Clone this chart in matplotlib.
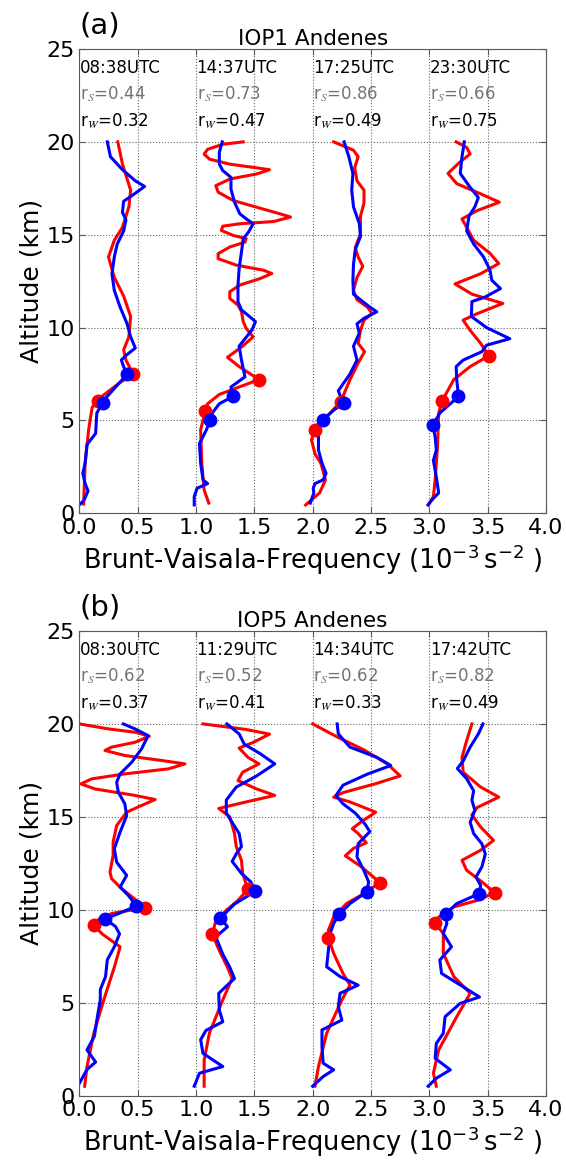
import numpy as np
import matplotlib.pyplot as plt

# ---------------- IOP1 Andenes (panel a) ----------------
# profiles are plotted with an offset of 0, 1, 2, 3 on the x axis
a1_red_z = [20.0, 18.8, 17.4, 16.5, 15.4, 14.7, 13.8, 12.7, 11.7, 10.6, 9.5, 8.8, 8.25, 7.5, 7.0, 6.3, 6.06, 5.7, 4.5, 2.7, 0.5]
a1_red_n = [0.33, 0.37, 0.44, 0.425, 0.37, 0.30, 0.25, 0.30, 0.38, 0.44, 0.425, 0.38, 0.40, 0.46, 0.34, 0.195, 0.16, 0.11, 0.08, 0.05, 0.037]
a1_blue_z = [20.0, 19.2, 18.5, 17.9, 17.6, 17.1, 16.8, 16.2, 15.8, 15.2, 14.5, 13.8, 12.9, 12.0, 11.1, 10.2, 9.5, 8.9, 8.5, 8.25,
             7.9, 7.48, 7.0, 6.3, 5.95, 5.4, 4.3, 3.7, 2.7, 2.15, 1.6, 1.2, 0.7, 0.45]
a1_blue_n = [0.24, 0.267, 0.37, 0.48, 0.56, 0.45, 0.38, 0.37, 0.40, 0.38, 0.325, 0.30, 0.28, 0.30, 0.35, 0.41, 0.44, 0.48, 0.40, 0.36,
             0.38, 0.41, 0.34, 0.24, 0.20, 0.15, 0.14, 0.066, 0.05, 0.03, 0.05, 0.075, 0.04, 0.0]

a2_red_z = [20.0, 19.87, 19.6, 19.34, 19.07, 18.8, 18.6, 18.5, 18.27, 18.0, 17.64, 17.29, 16.84, 16.48, 16.125, 15.95,
            15.71, 15.59, 15.46, 15.23, 14.96, 14.79, 14.6, 14.34, 13.98, 13.71, 13.36, 13.09, 12.91, 12.64, 12.29, 11.93,
            11.57, 11.21, 10.86, 10.32, 9.96, 9.5, 9.0, 8.4, 7.9, 7.2, 6.8, 6.4, 5.9, 5.5, 4.5, 2.7, 1.25, 0.55]
a2_red_n = [0.405, 0.23, 0.10, 0.07, 0.116, 0.29, 0.52, 0.63, 0.52, 0.29, 0.17, 0.19, 0.32, 0.52, 0.72, 0.81,
            0.665, 0.376, 0.23, 0.217, 0.32, 0.43, 0.42, 0.29, 0.19, 0.19, 0.347, 0.578, 0.65, 0.55, 0.376, 0.29,
            0.29, 0.36, 0.39, 0.405, 0.43, 0.49, 0.40, 0.27, 0.37, 0.54, 0.37, 0.20, 0.10, 0.08, 0.04, 0.05, 0.07, 0.11]
a2_blue_z = [20.0, 19.43, 18.8, 18.45, 18.09, 17.46, 16.75, 16.125, 15.86, 15.59, 15.14, 14.79, 14.07, 13.18, 12.29, 11.39,
             10.95, 10.59, 10.32, 9.875, 9.0, 8.25, 7.35, 6.8, 6.3, 5.9, 5.4, 5.0, 4.5, 3.75, 2.7, 1.8, 1.6, 1.35, 0.9, 0.45]
a2_blue_n = [0.225, 0.20, 0.20, 0.23, 0.30, 0.30, 0.33, 0.376, 0.43, 0.49, 0.45, 0.405, 0.39, 0.37, 0.36, 0.36,
             0.39, 0.46, 0.51, 0.48, 0.37, 0.39, 0.42, 0.30, 0.32, 0.20, 0.14, 0.12, 0.09, 0.03, 0.04, 0.06, 0.10, 0.01, -0.015, -0.015]

a3_red_z = [20.0, 19.55, 19.2, 18.6, 17.9, 17.4, 16.7, 16.0, 15.05, 14.3, 13.8, 13.3, 12.7, 12.0, 11.5, 11.1, 10.75, 10.4,
            9.85, 9.15, 8.7, 8.1, 7.2, 6.45, 6.0, 5.4, 4.85, 4.5, 3.95, 3.2, 2.7, 1.8, 1.1, 0.45]
a3_red_n = [0.18, 0.35, 0.39, 0.36, 0.38, 0.44, 0.44, 0.41, 0.41, 0.365, 0.39, 0.43, 0.38, 0.35, 0.38, 0.47, 0.51, 0.44,
            0.41, 0.39, 0.445, 0.39, 0.32, 0.27, 0.24, 0.15, 0.05, 0.02, -0.01, 0.02, 0.07, 0.11, 0.06, -0.06]
a3_blue_z = [20.0, 19.2, 18.3, 17.4, 16.5, 15.6, 14.9, 14.2, 13.4, 12.55, 11.8, 11.5, 11.1, 10.85, 10.5, 10.2, 9.7, 9.0,
             8.25, 7.5, 6.6, 6.35, 5.95, 5.55, 5.0, 4.5, 3.4, 2.7, 2.15, 1.8, 1.6, 1.35, 1.1, 0.55]
a3_blue_n = [0.27, 0.31, 0.345, 0.335, 0.35, 0.40, 0.41, 0.365, 0.35, 0.345, 0.35, 0.41, 0.49, 0.55, 0.44, 0.38, 0.40, 0.35,
             0.38, 0.32, 0.22, 0.235, 0.27, 0.18, 0.086, 0.05, 0.05, 0.08, 0.115, 0.09, 0.02, 0.005, 0.01, -0.02]

a4_red_z = [20.0, 19.7, 19.35, 18.9, 18.3, 17.75, 17.2, 16.75, 16.3, 15.85, 15.4, 14.7, 14.0, 13.45, 12.9, 12.35, 11.8,
            11.3, 10.75, 10.4, 9.85, 9.15, 8.48, 7.9, 7.2, 6.06, 5.4, 3.6, 1.8, 0.9, 0.45]
a4_red_n = [0.23, 0.32, 0.35, 0.26, 0.16, 0.235, 0.44, 0.60, 0.41, 0.28, 0.32, 0.38, 0.52, 0.595, 0.44, 0.22, 0.365,
            0.63, 0.41, 0.29, 0.35, 0.44, 0.51, 0.35, 0.21, 0.11, 0.08, 0.07, 0.05, 0.035, -0.01]
a4_blue_z = [20.0, 19.2, 18.3, 17.55, 17.0, 16.5, 16.0, 15.2, 14.5, 13.8, 13.1, 12.55, 12.1, 11.65, 11.4, 10.6, 10.0, 9.4,
             9.05, 8.7, 8.25, 7.9, 7.2, 6.3, 5.9, 5.4, 4.75, 4.1, 3.4, 2.85, 1.95, 1.1, 0.7, 0.45]
a4_blue_n = [0.30, 0.28, 0.265, 0.35, 0.42, 0.39, 0.34, 0.32, 0.38, 0.465, 0.52, 0.535, 0.61, 0.48, 0.365, 0.36, 0.49, 0.69,
             0.49, 0.45, 0.29, 0.23, 0.235, 0.25, 0.18, 0.09, 0.03, 0.05, 0.06, 0.035, 0.06, 0.08, 0.02, -0.01]

# marked levels (N, altitude) for each launch
a_red_dots = [[(0.46, 7.5), (0.16, 6.06)], [(0.54, 7.2), (0.08, 5.5)],
              [(0.24, 6.0), (0.02, 4.5)], [(0.51, 8.48), (0.11, 6.06)]]
a_blue_dots = [[(0.41, 7.48), (0.20, 5.95)], [(0.32, 6.3), (0.12, 5.0)],
               [(0.27, 5.95), (0.086, 5.0)], [(0.25, 6.3), (0.03, 4.75)]]
a_times = ['08:38UTC', '14:37UTC', '17:25UTC', '23:30UTC']
a_rs = [0.44, 0.73, 0.86, 0.66]
a_rw = [0.32, 0.47, 0.49, 0.75]

# ---------------- IOP5 Andenes (panel b) ----------------
b1_red_z = [20.0, 19.73, 19.55, 19.34, 19.01, 18.75, 18.57, 18.30, 18.03, 17.85, 17.58, 17.31, 17.04, 16.77, 16.5,
            16.15, 15.93, 15.61, 15.25, 14.53, 13.64, 12.92, 12.03, 11.67, 11.13, 10.5, 10.1, 9.8, 9.5, 9.17, 8.7,
            8.0, 6.9, 5.15, 3.35, 1.55, 0.5]
b1_red_n = [0.0, 0.25, 0.48, 0.60, 0.477, 0.277, 0.22, 0.39, 0.706, 0.906, 0.763, 0.39, 0.106, 0.014, 0.134,
            0.477, 0.65, 0.534, 0.406, 0.32, 0.29, 0.29, 0.263, 0.277, 0.363, 0.49, 0.56, 0.28, 0.17, 0.124, 0.195,
            0.35, 0.30, 0.21, 0.124, 0.066, 0.046]
b1_blue_z = [20.0, 19.73, 19.37, 18.66, 17.94, 17.31, 16.86, 16.33, 15.7, 15.07, 14.18, 13.28, 12.56, 11.85, 11.22,
             10.77, 10.2, 9.8, 9.5, 9.1, 8.7, 8.0, 7.3, 6.4, 5.7, 5.15, 4.05, 3.2, 2.45, 1.8, 1.4, 0.65]
b1_blue_n = [0.377, 0.477, 0.59, 0.534, 0.45, 0.35, 0.32, 0.334, 0.39, 0.406, 0.35, 0.30, 0.32, 0.406, 0.35,
             0.42, 0.49, 0.34, 0.22, 0.31, 0.345, 0.30, 0.24, 0.225, 0.18, 0.18, 0.15, 0.13, 0.066, 0.14, 0.066, 0.0]

b2_red_z = [20.0, 19.7, 19.45, 19.0, 18.7, 18.2, 17.85, 17.4, 16.95, 16.5, 16.15, 15.8, 15.45, 15.0, 14.1, 13.4, 12.65,
            11.95, 11.1, 10.5, 9.97, 9.4, 8.67, 7.8, 6.9, 6.3, 5.15, 3.35, 1.9, 0.5]
b2_red_n = [0.06, 0.43, 0.63, 0.49, 0.37, 0.445, 0.54, 0.40, 0.36, 0.52, 0.675, 0.43, 0.195, 0.29, 0.33, 0.345, 0.39,
            0.40, 0.445, 0.36, 0.26, 0.17, 0.14, 0.20, 0.27, 0.31, 0.23, 0.115, 0.07, 0.07]
b2_blue_z = [20.0, 19.46, 18.9, 18.4, 17.85, 17.2, 16.6, 15.9, 15.2, 14.6, 14.1, 13.4, 13.0, 12.6, 11.95, 11.5, 11.0,
             10.3, 9.56, 9.08, 8.54, 7.6, 6.9, 6.3, 5.5, 4.6, 3.97, 3.5, 3.0, 2.27, 1.56, 1.2, 0.5]
b2_blue_n = [0.265, 0.37, 0.415, 0.55, 0.675, 0.52, 0.345, 0.26, 0.26, 0.32, 0.37, 0.39, 0.345, 0.31, 0.39, 0.47, 0.51,
             0.33, 0.21, 0.27, 0.17, 0.23, 0.29, 0.33, 0.195, 0.20, 0.23, 0.085, 0.04, 0.06, 0.23, 0.03, -0.015]

b3_red_z = [20.0, 19.3, 18.6, 17.85, 17.2, 16.8, 16.3, 16.06, 15.8, 15.25, 14.7, 14.36, 14.1, 13.6, 13.3, 12.9, 12.3,
            11.76, 11.46, 10.87, 10.33, 9.6, 8.9, 8.5, 7.65, 6.57, 5.94, 5.14, 3.35, 1.56, 0.5]
b3_red_n = [0.0, 0.21, 0.44, 0.64, 0.75, 0.55, 0.26, 0.18, 0.32, 0.54, 0.41, 0.34, 0.39, 0.46, 0.35, 0.28, 0.42,
            0.52, 0.575, 0.44, 0.29, 0.18, 0.135, 0.135, 0.18, 0.26, 0.32, 0.25, 0.12, 0.05, 0.02]
b3_blue_z = [20.0, 19.46, 18.75, 18.2, 17.76, 17.3, 16.7, 16.15, 15.7, 15.2, 14.6, 14.2, 13.55, 12.84, 12.1, 11.5, 10.96,
             10.33, 9.76, 9.26, 8.72, 7.82, 6.93, 6.4, 5.94, 5.5, 4.78, 4.06, 3.53, 2.63, 1.74, 1.38, 1.02, 0.5]
b3_blue_n = [0.21, 0.22, 0.32, 0.55, 0.67, 0.47, 0.26, 0.20, 0.26, 0.365, 0.45, 0.49, 0.39, 0.38, 0.44, 0.48, 0.465,
             0.32, 0.23, 0.18, 0.15, 0.135, 0.12, 0.235, 0.39, 0.235, 0.22, 0.25, 0.08, 0.08, 0.09, 0.18, 0.09, 0.0]

b4_red_z = [20.0, 19.1, 18.2, 17.4, 16.6, 16.06, 15.5, 15.1, 14.45, 13.73, 13.2, 12.66, 12.12, 11.5, 10.92, 10.5, 10.15,
            9.6, 9.26, 8.72, 7.65, 6.4, 5.5, 4.24, 2.45, 1.2, 0.5]
b4_red_n = [0.365, 0.32, 0.28, 0.29, 0.44, 0.595, 0.41, 0.365, 0.44, 0.55, 0.44, 0.28, 0.32, 0.45, 0.56, 0.41, 0.21,
            0.08, 0.05, 0.12, 0.12, 0.21, 0.35, 0.235, 0.08, 0.035, 0.06]
b4_blue_z = [20.0, 19.46, 18.75, 18.0, 17.6, 17.05, 16.4, 15.9, 15.35, 14.7, 14.1, 13.55, 13.0, 12.3, 11.76, 11.3, 10.87,
             10.33, 9.76, 9.26, 8.72, 8.0, 7.29, 6.57, 5.85, 5.3, 4.96, 4.24, 3.35, 2.8, 2.0, 1.38, 0.93, 0.5]
b4_blue_n = [0.46, 0.42, 0.35, 0.29, 0.24, 0.32, 0.38, 0.365, 0.39, 0.35, 0.38, 0.45, 0.48, 0.45, 0.40, 0.44, 0.43,
             0.235, 0.14, 0.15, 0.12, 0.19, 0.09, 0.105, 0.29, 0.43, 0.265, 0.135, 0.12, 0.06, 0.05, 0.18, 0.06, -0.01]

b_red_dots = [[(0.56, 10.1), (0.124, 9.17)], [(0.445, 11.1), (0.14, 8.67)],
              [(0.575, 11.46), (0.135, 8.5)], [(0.56, 10.92), (0.05, 9.26)]]
b_blue_dots = [[(0.49, 10.2), (0.22, 9.5)], [(0.51, 11.0), (0.21, 9.56)],
               [(0.465, 10.96), (0.23, 9.76)], [(0.43, 10.87), (0.14, 9.76)]]
b_times = ['08:30UTC', '11:29UTC', '14:34UTC', '17:42UTC']
b_rs = [0.62, 0.52, 0.62, 0.82]
b_rw = [0.37, 0.41, 0.33, 0.49]


def draw_panel(ax, red, blue, red_dots, blue_dots, times, r_s, r_w, title, tag):
    # each launch is shifted by its index along x
    for i in range(4):
        ax.plot(np.array(red[i][1]) + i, red[i][0], color='r', lw=2.2, solid_joinstyle='round')
        ax.plot(np.array(blue[i][1]) + i, blue[i][0], color='b', lw=2.2, solid_joinstyle='round')
    for i in range(4):
        n, z = zip(*red_dots[i])
        ax.plot(np.array(n) + i, z, 'o', color='r', mec='r', ms=9)
        n, z = zip(*blue_dots[i])
        ax.plot(np.array(n) + i, z, 'o', color='b', mec='b', ms=9)

    # launch time and correlation coefficients
    for i in range(4):
        ax.text(i + 0.005, 23.7, times[i], fontsize=12, ha='left', va='baseline')
        ax.text(i + 0.005, 22.3, r'r$_S$=%.2f' % r_s[i], fontsize=12, color='0.45',
                ha='left', va='baseline', math_fontfamily='stix')
        ax.text(i + 0.005, 20.8, r'r$_W$=%.2f' % r_w[i], fontsize=12, ha='left', va='baseline',
                math_fontfamily='stix')

    ax.set_xlim(0, 4)
    ax.set_ylim(0, 25)
    ax.set_xticks(np.arange(0, 4.01, 0.5))
    ax.set_yticks(np.arange(0, 26, 5))
    ax.set_xticklabels(['%.1f' % v for v in np.arange(0, 4.01, 0.5)])
    ax.grid(True, color='0.4', linestyle=':', linewidth=0.8)
    ax.tick_params(direction='in', top=True, right=True, length=4, labelsize=16, color='0.35')
    for sp in ax.spines.values():
        sp.set_color('0.35')
    ax.set_title(title, fontsize=15.5, pad=3)
    ax.text(0.0, 1.02, tag, transform=ax.transAxes, fontsize=21, ha='left', va='bottom')
    ax.set_ylabel('Altitude (km)', fontsize=18, labelpad=2)
    ax.set_xlabel(r'Brunt-Vaisala-Frequency ($10^{-3}\,\mathrm{s}^{-2}$ )', fontsize=18.5, labelpad=3)


fig = plt.figure(figsize=(5.66, 11.61), dpi=100)
W, H = 566.0, 1161.0
ax_a = fig.add_axes([79.3 / W, 1 - 513.3 / H, (546 - 79.3) / W, (513.3 - 49) / H])
ax_b = fig.add_axes([79.3 / W, 1 - 1095.5 / H, (546 - 79.3) / W, (1095.5 - 631) / H])

draw_panel(ax_a,
           [(a1_red_z, a1_red_n), (a2_red_z, a2_red_n), (a3_red_z, a3_red_n), (a4_red_z, a4_red_n)],
           [(a1_blue_z, a1_blue_n), (a2_blue_z, a2_blue_n), (a3_blue_z, a3_blue_n), (a4_blue_z, a4_blue_n)],
           a_red_dots, a_blue_dots, a_times, a_rs, a_rw, 'IOP1 Andenes', '(a)')
draw_panel(ax_b,
           [(b1_red_z, b1_red_n), (b2_red_z, b2_red_n), (b3_red_z, b3_red_n), (b4_red_z, b4_red_n)],
           [(b1_blue_z, b1_blue_n), (b2_blue_z, b2_blue_n), (b3_blue_z, b3_blue_n), (b4_blue_z, b4_blue_n)],
           b_red_dots, b_blue_dots, b_times, b_rs, b_rw, 'IOP5 Andenes', '(b)')

fig.savefig('out.png', dpi=100)
